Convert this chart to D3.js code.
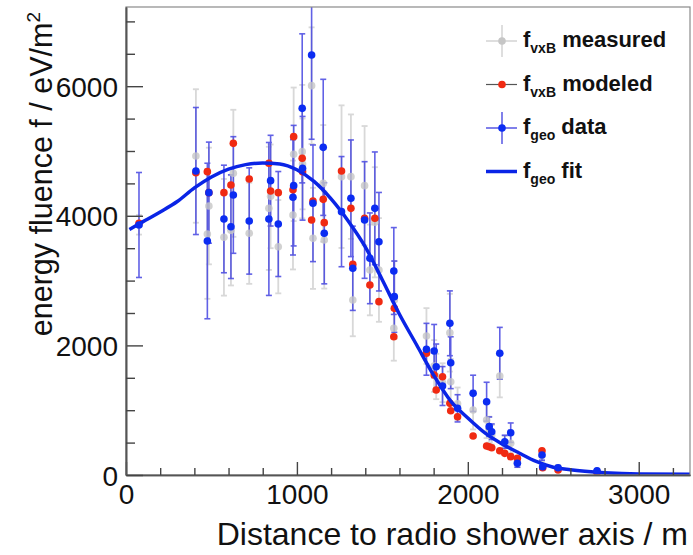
<!DOCTYPE html>
<html>
<head>
<meta charset="utf-8">
<script src="https://cdn.jsdelivr.net/npm/d3@7"></script>
<style>
  body { margin: 0; background: #fff; }
  svg { display: block; font-family: "Liberation Sans", Arial, Helvetica, sans-serif; }
</style>
</head>
<body>
<div id="chart"></div>
<script>
// station values (distance in m, fluence in eV/m^2)
const distance    = [76, 409, 476, 485, 573, 614, 628, 721, 836, 846, 891, 977, 981, 1031, 1033, 1086, 1094, 1154, 1160, 1261, 1316, 1327, 1396, 1427, 1456, 1480, 1567, 1570, 1758, 1803, 1815, 1852, 1895, 1900, 1940, 2031, 2110, 2125, 2140, 2187, 2216, 2251, 2290, 2434, 2438, 2528, 2756];
const measured    = [3860, 4923, 3719, 4151, 3668, 3775, 4656, 3730, 4115, 4300, 3523, 4012, 4949, 4990, 4800, 6008, 3652, 4500, 3627, 4604, 4604, 2701, 4465, 3164, 3900, 3164, 2264, 2700, 2145, 1682, 1520, 1424, 2196, 1440, 1100, 1003, 849, 700, 620, 1528, 480, 489, 200, 300, 130, 110, 60];
const measuredErr = [150, 1030, 1000, 900, 900, 850, 980, 780, 950, 800, 720, 840, 1030, 1030, 700, 900, 780, 900, 750, 1100, 960, 560, 920, 700, 850, 800, 500, 600, 430, 400, 350, 300, 600, 350, 250, 300, 280, 200, 150, 330, 120, 150, 80, 90, 50, 40, 30];
const modeled     = [3884, 4665, 4681, 4357, 4357, 4476, 5118, 4568, 4810, 4383, 4357, 4400, 5221, 4887, 4681, 3935, 4228, 4254, 3894, 4691, 4115, 3250, 3961, 2932, 3961, 2675, 2134, 2572, 1878, 1543, 1312, 1517, 1106, 992, 900, 602, 448, 437, 420, 375, 334, 283, 257, 375, 113, 77, 40];
const geo         = [3858, 4691, 3611, 4357, 3951, 3832, 4321, 3920, 3951, 4542, 3873, 4285, 4465, 5658, 4733, 6481, 4193, 5056, 3730, 4064, 4270, 3190, 3935, 3344, 4115, 3600, 3148, 2752, 1940, 1913, 1671, 1373, 2341, 1733, 1029, 1260, 1131, 746, 668, 1878, 514, 653, 180, 309, 128, 113, 66];
const geoErr      = [810, 980, 1200, 780, 830, 800, 900, 820, 1180, 700, 810, 890, 930, 1150, 800, 1300, 900, 1050, 780, 850, 900, 650, 900, 700, 870, 760, 670, 550, 400, 410, 350, 300, 500, 400, 210, 280, 300, 150, 120, 400, 100, 150, 60, 80, 40, 30, 25];

// fit curve
const fitDistance = [20, 100, 200, 300, 400, 500, 600, 700, 800, 900, 1000, 1100, 1200, 1300, 1400, 1500, 1600, 1700, 1800, 1900, 2000, 2100, 2200, 2300, 2400, 2500, 2600, 2800, 3000, 3300];
const fitFluence  = [3790, 3910, 4060, 4220, 4430, 4600, 4720, 4790, 4815, 4800, 4710, 4530, 4260, 3920, 3520, 3010, 2480, 2010, 1540, 1140, 880, 650, 480, 340, 210, 120, 80, 35, 15, 10];

const xTicks = [0, 1000, 2000, 3000];
const yTicks = [0, 2000, 4000, 6000];
const xMinor = d3.range(0, 3300, 200);
const yMinor = d3.range(0, 7200, 500);

const W = 693, H = 555;
const frame = {left: 126, right: 690, top: 7, bottom: 475};

const svg = d3.select("#chart").append("svg")
    .attr("width", W)
    .attr("height", H);

const x = d3.scaleLinear().domain([0, 3300]).range([frame.left, frame.right]);
const y = d3.scaleLinear().domain([0, 7222]).range([frame.bottom, frame.top]);

const stations = distance.map((d, i) => ({
    d: d, meas: measured[i], measErr: measuredErr[i],
    mod: modeled[i], geo: geo[i], geoErr: geoErr[i]
}));

svg.append("clipPath").attr("id", "plotclip")
  .append("rect")
    .attr("x", frame.left).attr("y", frame.top)
    .attr("width", frame.right - frame.left).attr("height", frame.bottom - frame.top);

const plot = svg.append("g").attr("clip-path", "url(#plotclip)");

// error bar helper
function errBars(g, data, val, err, color, width, op) {
    const grp = g.append("g")
        .attr("stroke", color)
        .attr("stroke-width", width)
        .attr("opacity", op);
    grp.selectAll("line.v").data(data).join("line")
        .attr("class", "v")
        .attr("x1", d => x(d.d)).attr("x2", d => x(d.d))
        .attr("y1", d => y(val(d) + err(d))).attr("y2", d => y(Math.max(0, val(d) - err(d))));
    grp.selectAll("line.t").data(data).join("line")
        .attr("class", "t")
        .attr("x1", d => x(d.d) - 3).attr("x2", d => x(d.d) + 3)
        .attr("y1", d => y(val(d) + err(d))).attr("y2", d => y(val(d) + err(d)));
    grp.selectAll("line.b").data(data).join("line")
        .attr("class", "b")
        .attr("x1", d => x(d.d) - 3).attr("x2", d => x(d.d) + 3)
        .attr("y1", d => y(Math.max(0, val(d) - err(d)))).attr("y2", d => y(Math.max(0, val(d) - err(d))));
}

errBars(plot, stations, d => d.meas, d => d.measErr, "#d4d4d4", 1.8, 0.9);
errBars(plot, stations, d => d.geo, d => d.geoErr, "#3a3ae0", 1.6, 0.8);

plot.append("g").selectAll("circle").data(stations).join("circle")
    .attr("cx", d => x(d.d)).attr("cy", d => y(d.meas))
    .attr("r", 3.8)
    .attr("fill", "#c6c6c6")
    .attr("opacity", 0.8);

plot.append("g").selectAll("circle").data(stations).join("circle")
    .attr("cx", d => x(d.d)).attr("cy", d => y(d.mod))
    .attr("r", 3.8)
    .attr("fill", "#f02a12");

const fitLine = d3.line()
    .x((d, i) => x(fitDistance[i]))
    .y(d => y(d))
    .curve(d3.curveMonotoneX);

plot.append("path")
    .datum(fitFluence)
    .attr("d", fitLine)
    .attr("fill", "none")
    .attr("stroke", "#0a24e6")
    .attr("stroke-width", 3.5);

plot.append("g").selectAll("circle").data(stations).join("circle")
    .attr("cx", d => x(d.d)).attr("cy", d => y(d.geo))
    .attr("r", 3.8)
    .attr("fill", "#0b2cf2");

// frame
svg.append("rect")
    .attr("x", frame.left).attr("y", frame.top)
    .attr("width", frame.right - frame.left).attr("height", frame.bottom - frame.top)
    .attr("fill", "none")
    .attr("stroke", "#8a8a8a")
    .attr("stroke-width", 1.2);

// axes (ticks point into the frame like ROOT)
const xAxis = svg.append("g")
    .attr("transform", `translate(0,${frame.bottom})`)
    .call(d3.axisBottom(x).tickValues(xTicks).tickFormat(d3.format("d"))
        .tickSizeInner(-13).tickSizeOuter(0).tickPadding(9));
svg.append("g")
    .attr("transform", `translate(0,${frame.bottom})`)
    .call(d3.axisBottom(x).tickValues(xMinor.filter(v => v % 1000 !== 0)).tickFormat("")
        .tickSizeInner(-7).tickSizeOuter(0));

const yAxis = svg.append("g")
    .attr("transform", `translate(${frame.left},0)`)
    .call(d3.axisLeft(y).tickValues(yTicks).tickFormat(d3.format("d"))
        .tickSizeInner(-17).tickSizeOuter(0).tickPadding(8));
svg.append("g")
    .attr("transform", `translate(${frame.left},0)`)
    .call(d3.axisLeft(y).tickValues(yMinor.filter(v => v % 2000 !== 0)).tickFormat("")
        .tickSizeInner(-9).tickSizeOuter(0));

svg.selectAll(".domain").attr("stroke", "#555").attr("stroke-width", 1.6);
svg.selectAll(".tick line").attr("stroke", "#444").attr("stroke-width", 1.4);
svg.selectAll(".tick text")
    .attr("font-size", 28)
    .attr("fill", "#111")
    .attr("font-family", "'Liberation Sans', Arial, sans-serif");
yAxis.selectAll(".tick text").attr("dy", "0.36em");

// axis titles
svg.append("text")
    .attr("x", 688).attr("y", 545)
    .attr("text-anchor", "end")
    .attr("font-size", 32)
    .attr("fill", "#111")
    .text("Distance to radio shower axis / m");

const yt = svg.append("text")
    .attr("transform", "translate(52,12) rotate(-90)")
    .attr("text-anchor", "end")
    .attr("font-size", 30.5)
    .attr("fill", "#111");
yt.append("tspan").text("energy fluence f / eV/m");
yt.append("tspan").attr("dy", -12).attr("font-size", 19).text("2");

// legend
const legend = [
    {main: "f", sub: "vxB", rest: " measured", kind: "meas"},
    {main: "f", sub: "vxB", rest: " modeled", kind: "mod"},
    {main: "f", sub: "geo", rest: " data", kind: "geo"},
    {main: "f", sub: "geo", rest: " fit", kind: "fit"}
];
const lg = svg.append("g");
legend.forEach((e, i) => {
    const cy = 41 + i * 43.5;
    const g = lg.append("g");
    if (e.kind === "meas") {
        g.append("line").attr("x1", 486).attr("x2", 517).attr("y1", cy).attr("y2", cy).attr("stroke", "#d6d6d6").attr("stroke-width", 1.6);
        g.append("line").attr("x1", 502).attr("x2", 502).attr("y1", cy - 16).attr("y2", cy + 16).attr("stroke", "#d6d6d6").attr("stroke-width", 1.6);
        g.append("circle").attr("cx", 502).attr("cy", cy).attr("r", 3.8).attr("fill", "#c6c6c6");
    } else if (e.kind === "mod") {
        g.append("line").attr("x1", 486).attr("x2", 517).attr("y1", cy).attr("y2", cy).attr("stroke", "#555").attr("stroke-width", 1.2);
        g.append("circle").attr("cx", 502).attr("cy", cy).attr("r", 3.8).attr("fill", "#f02a12");
    } else if (e.kind === "geo") {
        g.append("line").attr("x1", 486).attr("x2", 517).attr("y1", cy).attr("y2", cy).attr("stroke", "#3a3ae0").attr("stroke-width", 1.6).attr("opacity", 0.8);
        g.append("line").attr("x1", 502).attr("x2", 502).attr("y1", cy - 16).attr("y2", cy + 16).attr("stroke", "#3a3ae0").attr("stroke-width", 1.6).attr("opacity", 0.8);
        g.append("circle").attr("cx", 502).attr("cy", cy).attr("r", 3.8).attr("fill", "#0b2cf2");
    } else {
        g.append("line").attr("x1", 486).attr("x2", 517).attr("y1", cy).attr("y2", cy).attr("stroke", "#0a24e6").attr("stroke-width", 3.5);
    }
    const t = g.append("text")
        .attr("x", 523).attr("y", cy + 6)
        .attr("font-size", 22)
        .attr("font-weight", "bold")
        .attr("fill", "#111");
    t.append("tspan").text(e.main);
    t.append("tspan").attr("dy", 6).attr("font-size", 14).text(e.sub);
    t.append("tspan").attr("dy", -6).text(e.rest);
});
</script>
</body>
</html>
